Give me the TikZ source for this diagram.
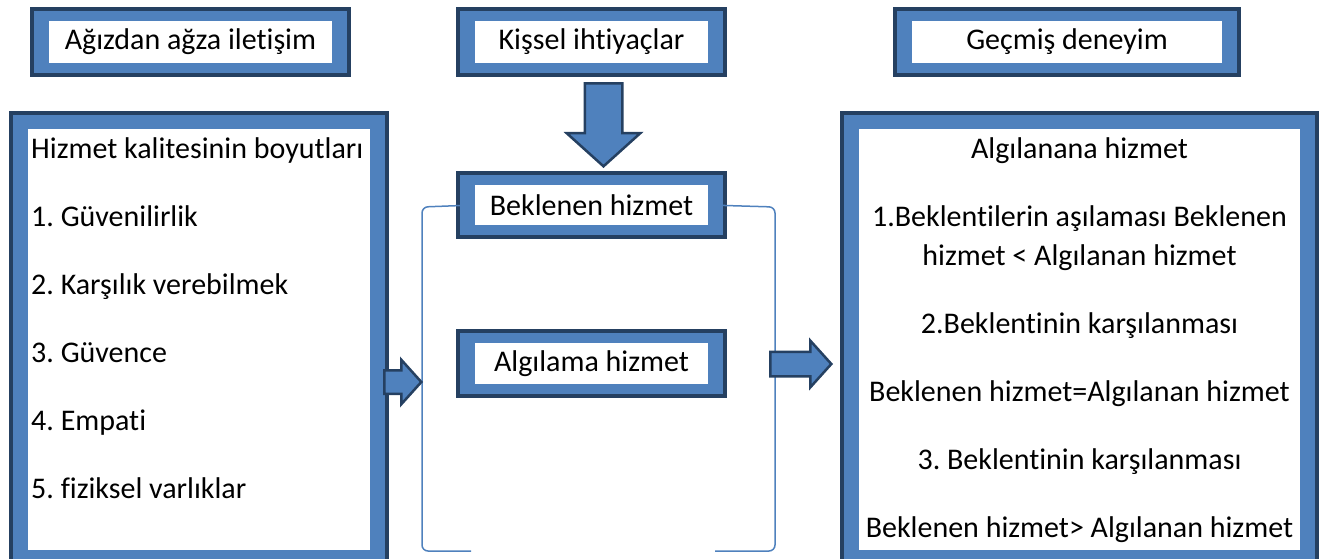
\documentclass[tikz,border=0pt]{standalone}
\usepackage{fontspec}
\setmainfont{Carlito}[RawFeature={-liga}]
\usetikzlibrary{shapes.arrows, positioning, fit, backgrounds, calc}
\definecolor{boxblue}{HTML}{4F81BD}
\definecolor{boxdark}{HTML}{254061}
\frenchspacing
\tikzset{
  panel/.style={fill=white, inner sep=0pt, font=\fontsize{30}{36}\selectfont},
  boxframe/.style={draw=boxdark, fill=boxblue, line width=4pt, inner xsep=17pt, inner ysep=12pt},
  blockarrow/.style={single arrow, draw=boxdark, fill=boxblue, line width=2.5pt, inner xsep=0pt,
    single arrow tip angle=96, anchor=tip},
  bracketline/.style={draw=boxblue, line width=1.5pt, rounded corners=6pt},
  listtext/.style={inner sep=0pt, align=left, font=\fontsize{30}{36}\selectfont},
  resulttext/.style={inner sep=0pt, align=center, font=\fontsize{30}{39}\selectfont}
}

\begin{document}
\begin{tikzpicture}[x=1pt, y=-1pt]
  \useasboundingbox (0,0) rectangle (1330,559);

  % top row
  \node[panel, minimum width=283pt, minimum height=42pt] at (190.5,42) (wom)
    {Ağızdan ağza iletişim};
  \node[panel, minimum width=233pt, minimum height=42pt] at (591.5,42) (needs)
    {Kişsel ihtiyaçlar};
  \node[panel, minimum width=310pt, minimum height=42pt] at (1067,42) (past)
    {Geçmiş deneyim};

  % middle column
  \node[panel, minimum width=233pt, minimum height=40pt] at (591.5,205) (expected)
    {Beklenen hizmet};
  \node[panel, minimum width=233pt, minimum height=41pt] at (591.5,363.5) (perceived)
    {Algılama hizmet};

  % big boxes
  \node[panel, minimum width=342pt, minimum height=421pt] at (199,339.5) (dims) {};
  \node[panel, minimum width=441pt, minimum height=421pt] at (1079.5,339.5) (result) {};

  \node[listtext, anchor=north west] at (31,137) (dimslist)
    {Hizmet kalitesinin boyutları\\[32pt]
     1. Güvenilirlik\\[32pt]
     2. Karşılık verebilmek\\[32pt]
     3. Güvence\\[32pt]
     4. Empati\\[32pt]
     5. fiziksel varlıklar};
  \node[resulttext, anchor=north] at (1079.5,137) (resultlist)
    {Algılanana hizmet\\[29pt]
     1.Beklentilerin aşılaması Beklenen\\
     hizmet < Algılanan hizmet\\[29pt]
     2.Beklentinin karşılanması\\[29pt]
     Beklenen hizmet=Algılanan hizmet\\[29pt]
     3. Beklentinin karşılanması\\[29pt]
     Beklenen hizmet> Algılanan hizmet};

  \begin{pgfonlayer}{background}
    \node[boxframe, fit=(wom)] (womframe) {};
    \node[boxframe, fit=(needs)] (needsframe) {};
    \node[boxframe, fit=(past)] (pastframe) {};
    \node[boxframe, fit=(expected)] (expectedframe) {};
    \node[boxframe, fit=(perceived)] (perceivedframe) {};
    \node[boxframe, inner ysep=16pt, fit=(dims)] (dimsframe) {};
    \node[boxframe, inner ysep=16pt, fit=(result)] (resultframe) {};
  \end{pgfonlayer}

  % bracket round the middle column
  \coordinate (bracketL) at (471,551);
  \coordinate (bracketR) at (715,551);
  \draw[bracketline] (expected.west) -- (422,207) -- (422,551) -- (bracketL);
  \draw[bracketline] (expected.east) -- (775,207) -- (775,551) -- (bracketR);

  % block arrows
  \node[blockarrow, rotate=-90, minimum height=83pt, inner ysep=17.5pt,
    single arrow head extend=18pt] at (603.5,168) (needsarrow) {};
  \node[blockarrow, minimum height=37pt, inner ysep=10.5pt,
    single arrow head extend=10.5pt] at (423,382) (dimsarrow) {};
  \node[blockarrow, minimum height=61pt, inner ysep=11pt,
    single arrow head extend=11pt] at (833,364) (resultarrow) {};
\end{tikzpicture}
\end{document}
